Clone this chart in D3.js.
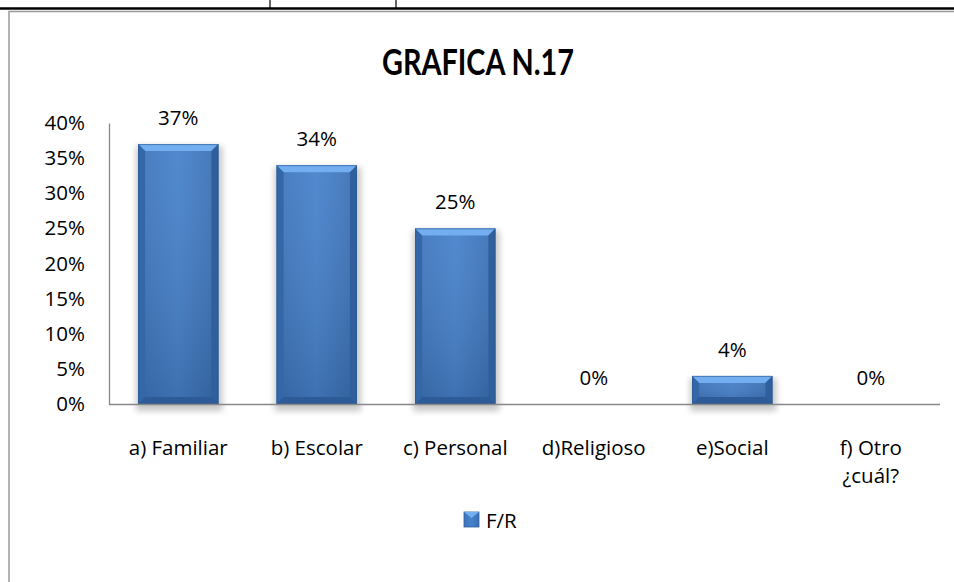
<!DOCTYPE html>
<html>
<head>
<meta charset="utf-8">
<script src="https://cdn.jsdelivr.net/npm/d3@7"></script>
<style>
  body { margin: 0; background: #fff; }
  svg { display: block; font-family: "Open Sans", Lato, sans-serif; }
</style>
</head>
<body>
<div id="chart"></div>
<script>
// chart data
var categories = ["a) Familiar", "b) Escolar", "c) Personal", "d)Religioso", "e)Social", "f) Otro ¿cuál?"];
var values = [0.37, 0.34, 0.25, 0, 0.04, 0];
var yTicks = [0, 0.05, 0.10, 0.15, 0.20, 0.25, 0.30, 0.35, 0.40];
var seriesName = "F/R";
var title = "GRAFICA N.17";

var width = 954, height = 582;
var plotLeft = 109, plotRight = 940, plotTop = 123, plotBottom = 404;
var fs = 20.5;

var svg = d3.select("#chart").append("svg")
  .attr("width", width)
  .attr("height", height);

var defs = svg.append("defs");
var grad = defs.append("linearGradient").attr("id", "barGrad")
  .attr("x1", 0).attr("x2", 1).attr("y1", 0).attr("y2", 0);
grad.append("stop").attr("offset", "0%").attr("stop-color", "#3d74bb");
grad.append("stop").attr("offset", "50%").attr("stop-color", "#4682cc");
grad.append("stop").attr("offset", "100%").attr("stop-color", "#3a6fb4");

var vgrad = defs.append("linearGradient").attr("id", "barV")
  .attr("x1", 0).attr("x2", 0).attr("y1", 0).attr("y2", 1);
vgrad.append("stop").attr("offset", "0%").attr("stop-color", "#ffffff").attr("stop-opacity", 0.06);
vgrad.append("stop").attr("offset", "100%").attr("stop-color", "#000000").attr("stop-opacity", 0.14);

defs.append("filter").attr("id", "shadow")
  .attr("x", "-20%").attr("y", "-5%").attr("width", "140%").attr("height", "120%")
  .append("feGaussianBlur").attr("stdDeviation", 3);

// document table lines above the chart
svg.append("line").attr("x1", 0).attr("x2", width).attr("y1", 8.5).attr("y2", 8.5)
  .attr("stroke", "#000").attr("stroke-width", 2.5);
[270, 396].forEach(function(xv) {
  svg.append("line").attr("x1", xv).attr("x2", xv).attr("y1", 0).attr("y2", 8)
    .attr("stroke", "#000").attr("stroke-width", 1.2);
});

// chart frame
svg.append("rect").attr("x", 9).attr("y", 11.5).attr("width", width + 10).attr("height", height)
  .attr("fill", "none").attr("stroke", "#9a9a9a").attr("stroke-width", 1.5);

svg.append("text")
  .attr("x", 478).attr("y", 75)
  .attr("text-anchor", "middle")
  .attr("font-family", "Lato, sans-serif")
  .attr("font-size", 37).attr("font-weight", "bold")
  .attr("textLength", 192).attr("lengthAdjust", "spacingAndGlyphs")
  .attr("fill", "#000")
  .text(title);

var x = d3.scaleBand().domain(categories).range([plotLeft, plotRight]).paddingInner(0.42).paddingOuter(0.21);
var y = d3.scaleLinear().domain([0, 0.4]).range([plotBottom, plotTop]);

// y axis
var yAxis = d3.axisLeft(y).tickValues(yTicks).tickFormat(d3.format(".0%")).tickSize(0).tickPadding(24);
var gy = svg.append("g").attr("transform", "translate(" + plotLeft + ",0)").call(yAxis);
gy.select(".domain").attr("stroke", "#888").attr("stroke-width", 1.3);
gy.selectAll("text").attr("font-size", fs).attr("fill", "#000").attr("font-family", "'Open Sans', sans-serif");

// bar shadows
svg.append("g").selectAll("rect")
  .data(values)
  .enter()
    .append("rect")
    .attr("x", function(d, i) { return x(categories[i]) - 2; })
    .attr("y", function(d) { return y(d) + 2; })
    .attr("width", x.bandwidth() + 6)
    .attr("height", function(d) { return d > 0 ? plotBottom - y(d) + 5 : 0; })
    .attr("fill", "#000").attr("opacity", 0.22)
    .attr("filter", "url(#shadow)");

// bars with bevel
svg.append("g").selectAll("g")
  .data(values.map(function(v, i) { return {cat: categories[i], value: v}; }))
  .enter()
    .append("g")
    .filter(function(d) { return d.value > 0; })
    .each(function(d) {
      var g = d3.select(this);
      var bx = x(d.cat), bw = x.bandwidth();
      var by = y(d.value), bh = plotBottom - y(d.value);
      var b = Math.min(7, bh / 2.5);
      g.append("rect").attr("x", bx).attr("y", by).attr("width", bw).attr("height", bh)
        .attr("fill", "url(#barGrad)");
      g.append("rect").attr("x", bx).attr("y", by).attr("width", bw).attr("height", bh)
        .attr("fill", "url(#barV)");
      g.append("polygon")
        .attr("points", [[bx, by], [bx + bw, by], [bx + bw - b, by + b], [bx + b, by + b]].join(" "))
        .attr("fill", "#72aef0");
      g.append("polygon")
        .attr("points", [[bx, by], [bx + b, by + b], [bx + b, by + bh - b], [bx, by + bh]].join(" "))
        .attr("fill", "#3367a8");
      g.append("polygon")
        .attr("points", [[bx + bw, by], [bx + bw - b, by + b], [bx + bw - b, by + bh - b], [bx + bw, by + bh]].join(" "))
        .attr("fill", "#2f5f9d");
      g.append("polygon")
        .attr("points", [[bx, by + bh], [bx + b, by + bh - b], [bx + bw - b, by + bh - b], [bx + bw, by + bh]].join(" "))
        .attr("fill", "#2d5b97");
      g.append("rect").attr("x", bx + 0.5).attr("y", by + 0.5).attr("width", bw - 1).attr("height", bh - 1)
        .attr("fill", "none").attr("stroke", "#2a5890").attr("stroke-width", 1).attr("opacity", 0.6);
    });

// baseline
svg.append("line").attr("x1", plotLeft).attr("x2", plotRight).attr("y1", plotBottom + 0.5).attr("y2", plotBottom + 0.5)
  .attr("stroke", "#888").attr("stroke-width", 1.5);

// value labels
svg.append("g").selectAll("text")
  .data(values)
  .enter()
    .append("text")
    .attr("x", function(d, i) { return x(categories[i]) + x.bandwidth() / 2; })
    .attr("y", function(d) { return y(d) - 19; })
    .attr("text-anchor", "middle")
    .attr("font-size", fs)
    .text(function(d) { return Math.round(d * 100) + "%"; });

// category labels (wrap "f) Otro ¿cuál?")
svg.append("g").selectAll("text")
  .data(categories)
  .enter()
    .append("text")
    .attr("x", function(d) { return x(d) + x.bandwidth() / 2; })
    .attr("y", 455)
    .attr("text-anchor", "middle")
    .attr("font-size", fs)
    .each(function(d) {
      var t = d3.select(this);
      var k = d.indexOf("¿");
      var parts = k > 0 ? [d.slice(0, k - 1), d.slice(k)] : [d];
      parts.forEach(function(p, j) {
        t.append("tspan").attr("x", t.attr("x")).attr("dy", j === 0 ? 0 : 28).text(p);
      });
    });

// legend
var lg = svg.append("g").attr("transform", "translate(464,512)");
lg.append("rect").attr("width", 15).attr("height", 15).attr("fill", "url(#barGrad)")
  .attr("stroke", "#2f5f9d").attr("stroke-width", 0.8);
lg.append("polygon").attr("points", "0,0 15,0 7.5,6").attr("fill", "#72aef0");
lg.append("text").attr("x", 22).attr("y", 16).attr("font-size", fs).text(seriesName);
</script>
</body>
</html>
